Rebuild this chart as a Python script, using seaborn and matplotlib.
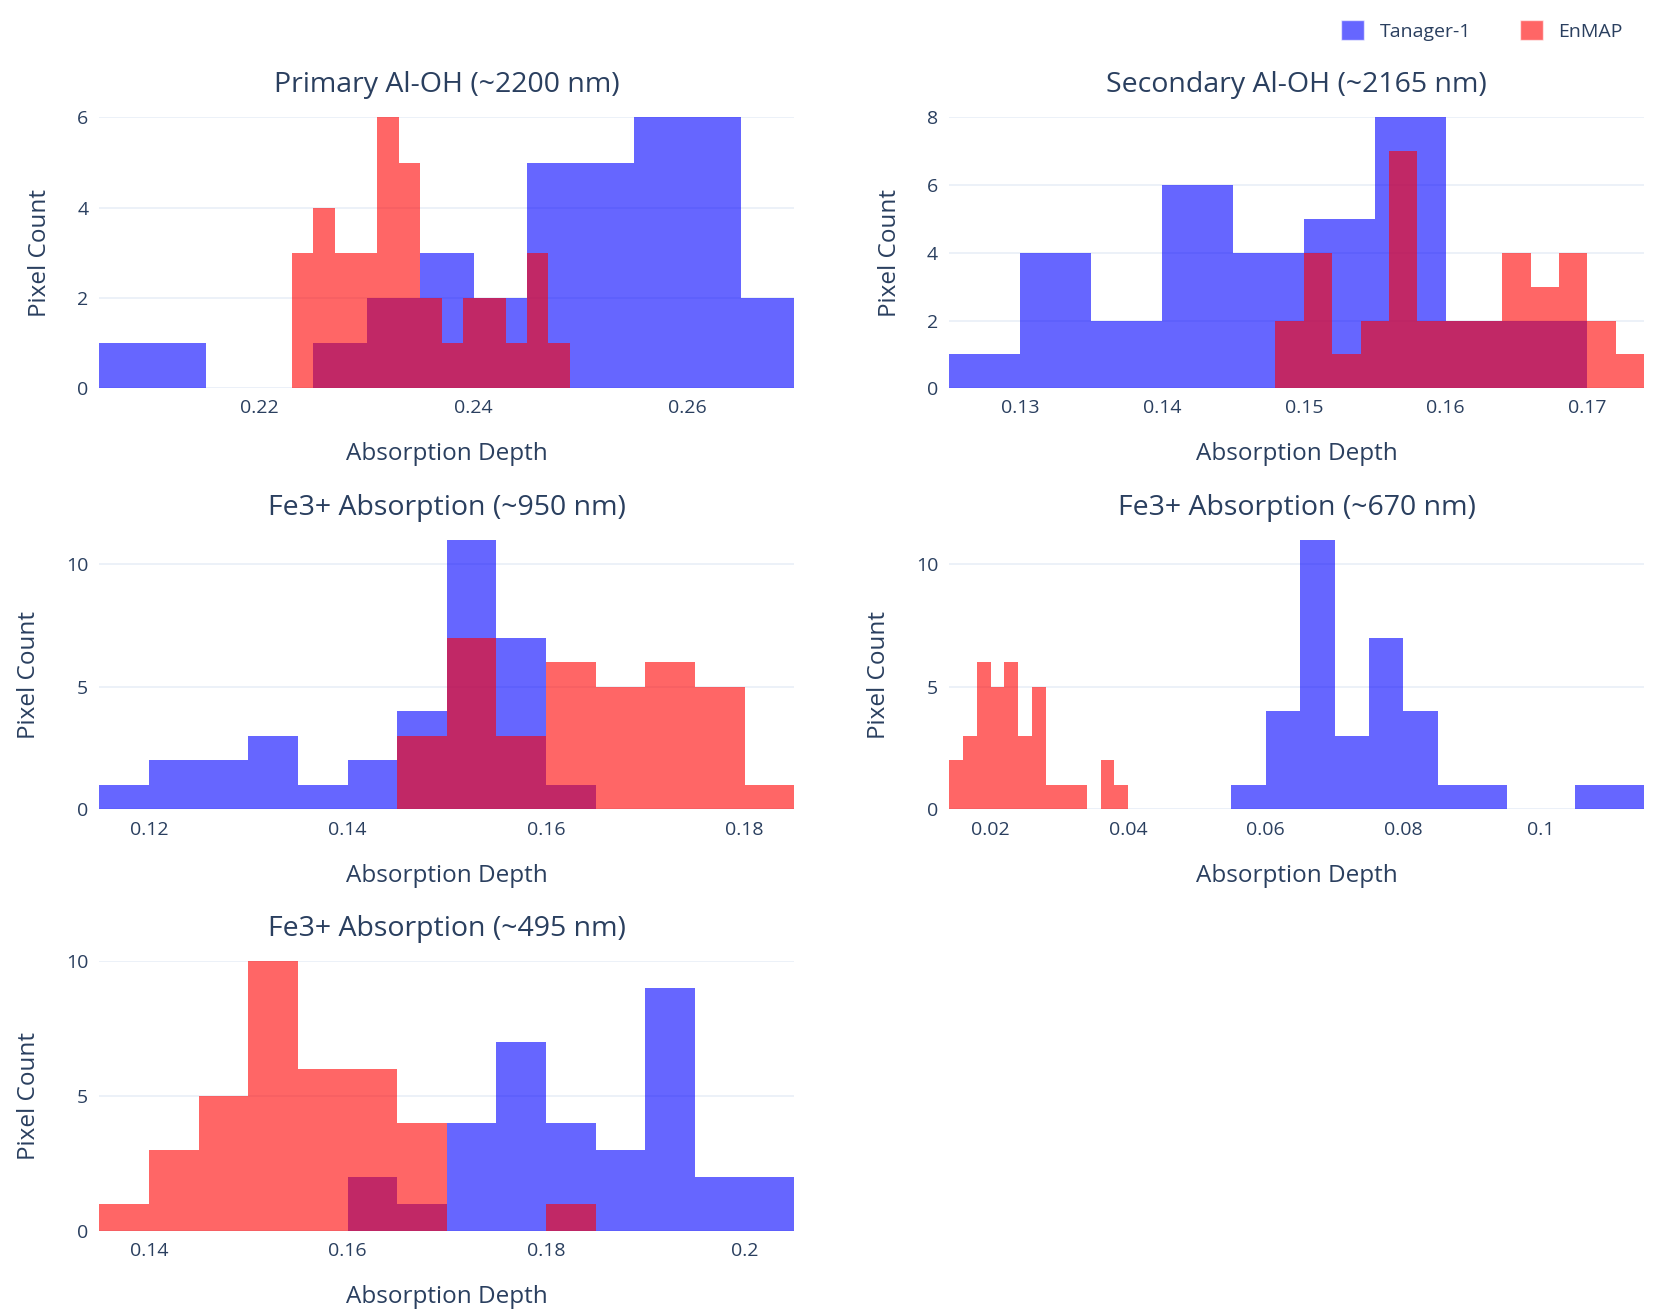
import numpy as np
import pandas as pd
import matplotlib
matplotlib.use("Agg")
import matplotlib.pyplot as plt
import seaborn as sns
from matplotlib.ticker import MultipleLocator, FuncFormatter
from matplotlib.patches import Patch

sns.set_theme(style="white")
plt.rcParams['font.family'] = ['Open Sans', 'DejaVu Sans']

titles = ["Primary Al-OH (~2200 nm)", "Secondary Al-OH (~2165 nm)",
          "Fe3+ Absorption (~950 nm)", "Fe3+ Absorption (~670 nm)",
          "Fe3+ Absorption (~495 nm)"]

# (start, bin width, counts)
tan_p1 = (0.205, 0.005, [1, 1, 0, 0, 1, 2, 3, 2, 5, 5, 6, 6, 2])
enm_p1 = (0.223, 0.002, [3, 4, 3, 3, 6, 5, 2, 1, 2, 2, 1, 3, 1])
tan_p2 = (0.125, 0.005, [1, 4, 2, 6, 4, 5, 8, 2, 2])
enm_p2 = (0.148, 0.002, [2, 4, 1, 2, 7, 2, 2, 2, 4, 3, 4, 2, 1])
tan_p3 = (0.115, 0.005, [1, 2, 2, 3, 1, 2, 4, 11, 7, 1])
enm_p3 = (0.145, 0.005, [3, 7, 3, 6, 5, 6, 5, 1])
tan_p4 = (0.055, 0.005, [1, 4, 11, 3, 7, 4, 1, 1, 0, 0, 1, 1])
enm_p4 = (0.014, 0.002, [2, 3, 6, 5, 6, 3, 5, 1, 1, 1, 0, 2, 1])
tan_p5 = (0.160, 0.005, [2, 1, 4, 7, 4, 3, 9, 2, 2])
enm_p5 = (0.135, 0.005, [1, 3, 5, 10, 6, 6, 4, 0, 0, 1])

xlims = [(0.205, 0.27), (0.125, 0.174), (0.115, 0.185), (0.014, 0.115), (0.135, 0.205)]
xticks = [0.02, 0.01, 0.02, 0.02, 0.02]
yticks = [2, 2, 5, 5, 5]
series = [(tan_p1, enm_p1), (tan_p2, enm_p2), (tan_p3, enm_p3), (tan_p4, enm_p4), (tan_p5, enm_p5)]

W, H = 1550.0, 1240.0
boxes = [(93, 111, 743, 367), (888, 111, 1538, 367),
         (93, 510, 743, 765), (888, 510, 1538, 765),
         (93, 908, 743, 1163)]

fig = plt.figure(figsize=(16.57, 13.12), dpi=100)
txt = "#2a3f5f"
fmt = FuncFormatter(lambda v, p: "{:g}".format(round(v, 6)))

for i, ((t, e), (x0, y0, x1, y1)) in enumerate(zip(series, boxes)):
    ax = fig.add_axes([x0 / W, 1 - y1 / H, (x1 - x0) / W, (y1 - y0) / H])
    ymax = 0
    for (start, w, counts), col in ((t, "blue"), (e, "red")):
        counts = np.array(counts, dtype=float)
        n = len(counts)
        centers = start + w * (np.arange(n) + 0.5)
        df = pd.DataFrame({"x": centers, "n": counts})
        sns.histplot(data=df, x="x", weights="n", binwidth=w,
                     binrange=(start, start + w * n), color=col, alpha=0.6,
                     linewidth=0, edgecolor="none", ax=ax, zorder=3)
        ymax = max(ymax, counts.max())
    ax.set_xlim(*xlims[i])
    ax.set_ylim(0, ymax)
    ax.xaxis.set_major_locator(MultipleLocator(xticks[i]))
    ax.yaxis.set_major_locator(MultipleLocator(yticks[i]))
    ax.xaxis.set_major_formatter(fmt)
    ax.grid(axis="y", color="#EBF0F8", linewidth=1.3, zorder=0)
    ax.set_axisbelow(True)
    for s in ax.spines.values():
        s.set_visible(False)
    ax.axhline(0, color="#EBF0F8", linewidth=2, zorder=1)
    ax.tick_params(colors=txt, labelsize=14, length=0, pad=8)
    ax.set_xlabel("Absorption Depth", fontsize=17.5, color=txt, labelpad=18)
    ax.set_ylabel("Pixel Count", fontsize=17.5, color=txt, labelpad=18)
    ax.set_title(titles[i], fontsize=20.5, color=txt, pad=18)

handles = [Patch(facecolor="blue", alpha=0.6, label="Tanager-1"),
           Patch(facecolor="red", alpha=0.6, label="EnMAP")]
fig.legend(handles=handles, loc="upper right", bbox_to_anchor=(0.99, 0.998), ncol=2,
           frameon=False, fontsize=14, handlelength=1.2, handleheight=1.2,
           columnspacing=2.5, labelcolor=txt)

fig.savefig("out.png", dpi=100)
